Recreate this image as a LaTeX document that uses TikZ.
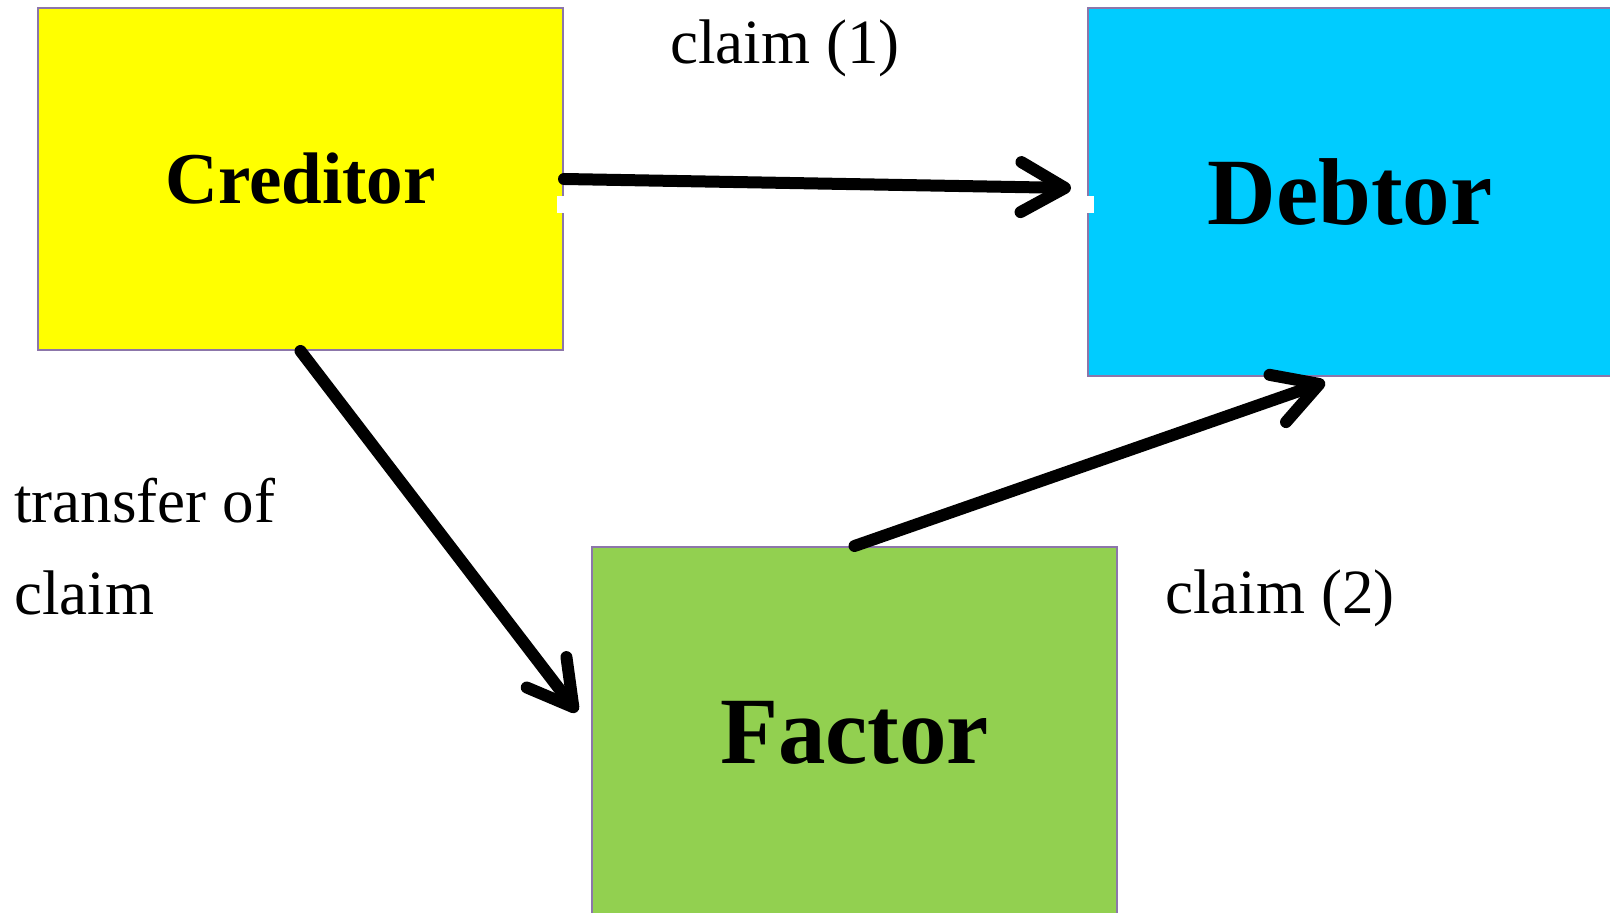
\documentclass[tikz,border=0pt]{standalone}
\usepackage{fontspec}
\setmainfont{Liberation Serif}
\usetikzlibrary{calc}
\usetikzlibrary{positioning}
\usetikzlibrary{arrows.meta}

\definecolor{boxline}{RGB}{140,118,170}
\definecolor{credyellow}{RGB}{255,255,0}
\definecolor{debtcyan}{RGB}{0,204,255}
\definecolor{factgreen}{RGB}{146,208,80}

\begin{document}
\begin{tikzpicture}
		[
		x=0.5pt,y=-0.5pt,
		font=\fontsize{31.5}{46}\selectfont,
		claim arrow/.style={draw,line width=6pt,line cap=round,-{Straight Barb[length=22pt,width=25pt,line cap=round,line join=round]}}
		]
		
		% Two node styles: party boxes and plain labels
		\tikzstyle{party}=[rectangle,draw=boxline,line width=1pt,inner sep=0,font=\fontsize{47.5}{50}\selectfont\bfseries];
		\tikzstyle{lbl}=[inner sep=0,anchor=base west];
		
		\useasboundingbox (0,0) rectangle (1610,913);
		
		% The parties
		\node(creditor)[party,fill=credyellow,minimum width=262.5pt,minimum height=171pt,font=\fontsize{36.5}{40}\selectfont\bfseries] at (300.5,179){Creditor};
		\node(debtor)[party,fill=debtcyan,minimum width=262pt,minimum height=184pt] at (1350,192){Debtor};
		\node(factor)[party,fill=factgreen,minimum width=262.5pt,minimum height=186pt] at (854.5,733){Factor};
		
		% Claims
		\draw[claim arrow](creditor.east)--($(debtor.west)+(-16,-4)$);
		\draw[claim arrow](creditor.south)--($(factor.west)+(-14,-21)$);
		\draw[claim arrow](factor.north)--($(debtor.south)+(-25,5)$);
		
		% Connection marks
		\fill[white]($(creditor.east)+(-7,17)$) rectangle ($(creditor.east)+(0,34)$);
		\fill[white]($(debtor.west)+(-1,4)$) rectangle ($(debtor.west)+(7,21)$);
		
		% Labels
		\node(claimone)[lbl] at (670,64){claim (1)};
		\node(transfer)[lbl] at (14,523){transfer of};
		\node(transferclaim)[lbl] at (14,615){claim};
		\node(claimtwo)[lbl] at (1165,614){claim (2)};
		
\end{tikzpicture}
\end{document}
